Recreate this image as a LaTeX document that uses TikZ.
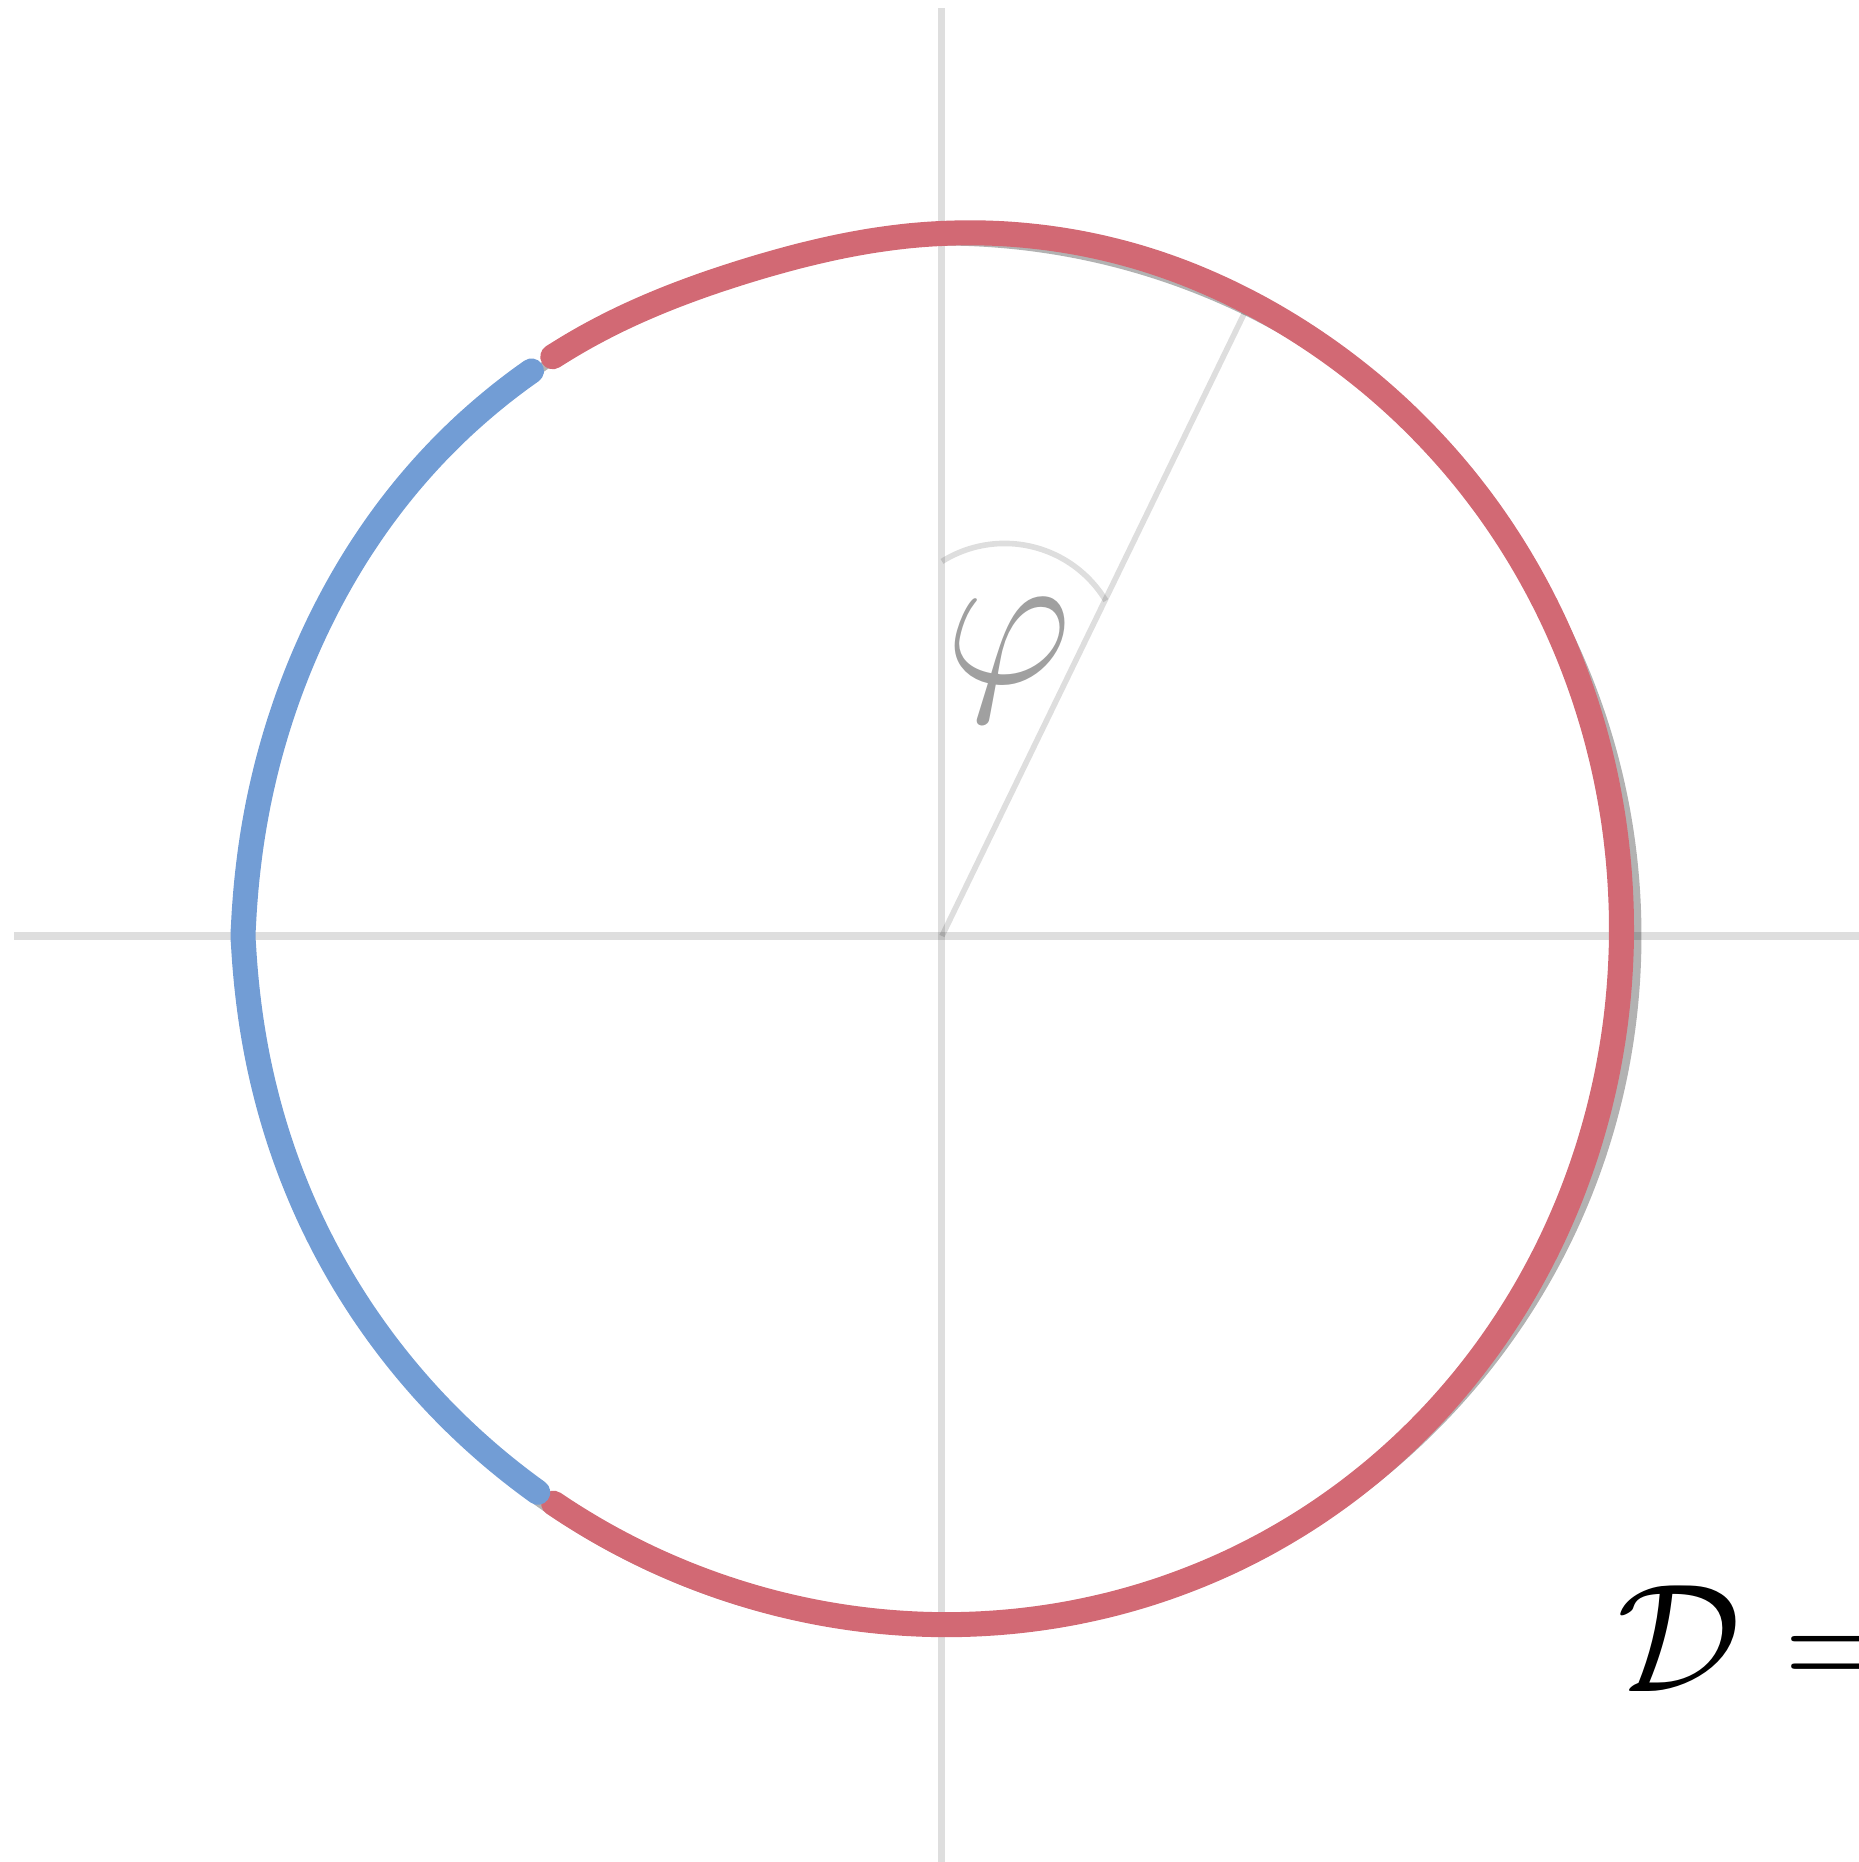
\RequirePackage{fix-cm}
\documentclass[tikz,border=0pt]{standalone}
\usepackage{amsmath, amssymb}
\usepackage{xcolor}
\usepackage{tikz}
\usetikzlibrary{calc}

\definecolor{arcred}{RGB}{210,105,116}
\definecolor{arcblue}{RGB}{114,157,213}
\definecolor{labelgray}{RGB}{160,160,160}

\begin{document}
\begin{tikzpicture}[
            x=3.475cm,
            y=3.475cm,
            declare function={
                rbase(\t)=0.995-0.006*cos(\t)+0.0096*sin(\t)-0.0063*cos(2*\t)+0.0013*sin(2*\t)-0.005*cos(3*\t)-0.0008*sin(3*\t);
                rcurve(\t)=rbase(\t)+0.006*exp(-abs(\t-180)/8)-0.01*exp(-((\t-106)/13)^2)+0.006*exp(-((\t-138)/18)^2)+0.004*exp(-((\t-75)/15)^2);
            },
            axis/.style={draw=black, draw opacity=0.13, line width=1pt},
            guide/.style={draw=black, draw opacity=0.13, line width=0.8pt},
            unitcircle/.style={draw=black, draw opacity=0.3, line width=1.28pt},
            redarc/.style={draw=arcred, line width=3.56pt, line cap=round, line join=round},
            bluearc/.style={draw=arcblue, line width=3.56pt, line cap=round, line join=round}
            ]

            \useasboundingbox (-1.3554,-1.3324) rectangle (1.3194,1.3468);
            \clip (-1.3554,-1.3324) rectangle (1.3194,1.3468);

            % 坐标轴
            \coordinate (O) at (0,0);
            \coordinate (xl) at (-1.335,0);
            \coordinate (xr) at (1.335,0);
            \coordinate (yb) at (0,-1.335);
            \coordinate (yt) at (0,1.335);
            \draw[axis] (xl) -- (xr);
            \draw[axis] (yb) -- (yt);

            % 角度
            \coordinate (P) at (64.1:1);
            \coordinate (A) at (0,0.539);
            \draw[guide] (O) -- (P);
            \draw[guide] (A) arc[start angle=122, end angle=31, radius=0.17];
            \node[text=labelgray, font=\fontsize{28}{34}\selectfont] (phi) at (0.096,0.397) {$\varphi$};

            % 单位圆
            \draw[unitcircle] (O) circle[radius=1];

            % 曲线
            \draw[redarc] plot[domain=-124.4:123.9, samples=160, smooth] (\x:{rcurve(\x)});
            \draw[bluearc] plot[domain=126:234, samples=109, smooth] (\x:{rcurve(\x)});

            % 标签
            \node[anchor=base west, inner sep=0pt, font=\fontsize{22}{26}\selectfont] (dlabel) at (0.97,-1.087) {$\mathcal{D} =$};
        \end{tikzpicture}
\end{document}
